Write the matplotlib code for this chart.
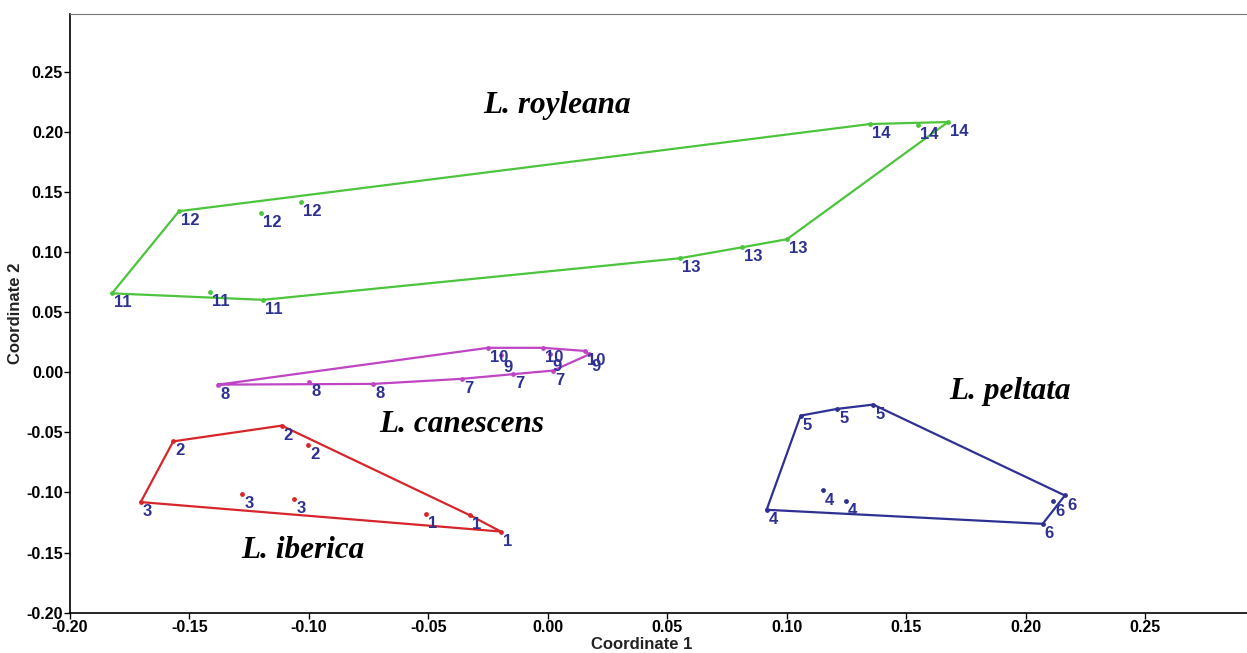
import numpy as np
import matplotlib.pyplot as plt

# PCoA scores for each population, grouped by species
iberica_x = [-0.0197, -0.0326, -0.0512, -0.1568, -0.1114, -0.1003, -0.1704, -0.1279, -0.1061]
iberica_y = [-0.1325, -0.1190, -0.1180, -0.0575, -0.0444, -0.0608, -0.1080, -0.1013, -0.1055]
iberica_lab = ["1", "1", "1", "2", "2", "2", "3", "3", "3"]

peltata_x = [0.0915, 0.1149, 0.1246, 0.1057, 0.1210, 0.1361, 0.2163, 0.2114, 0.2070]
peltata_y = [-0.1144, -0.0983, -0.1069, -0.0361, -0.0305, -0.0269, -0.1025, -0.1075, -0.1261]
peltata_lab = ["4", "4", "4", "5", "5", "5", "6", "6", "6"]

canescens_x = [-0.0361, -0.0145, 0.0022, -0.1379, -0.0999, -0.0731, -0.0197, 0.0008, 0.0172, -0.0250, -0.0020, 0.0155]
canescens_y = [-0.0055, -0.0013, 0.0014, -0.0103, -0.0080, -0.0097, 0.0140, 0.0148, 0.0148, 0.0203, 0.0203, 0.0177]
canescens_lab = ["7", "7", "7", "8", "8", "8", "9", "9", "9", "10", "10", "10"]

royleana_x = [-0.1824, -0.1414, -0.1192, -0.1544, -0.1201, -0.1033, 0.0552, 0.0812, 0.1000, 0.1347, 0.1548, 0.1674]
royleana_y = [0.0656, 0.0664, 0.0602, 0.1339, 0.1322, 0.1414, 0.0948, 0.1039, 0.1106, 0.2064, 0.2060, 0.2081]
royleana_lab = ["11", "11", "11", "12", "12", "12", "13", "13", "13", "14", "14", "14"]

species = ["L. iberica", "L. peltata", "L. canescens", "L. royleana"]
species_pos = [(-0.1025, -0.1486), (0.1933, -0.0160), (-0.0360, -0.0436), (0.0038, 0.2215)]


def convex_hull(x, y):
    pts = sorted(set(zip(x, y)))

    def cross(o, a, b):
        return (a[0] - o[0]) * (b[1] - o[1]) - (a[1] - o[1]) * (b[0] - o[0])

    lower, upper = [], []
    for p in pts:
        while len(lower) >= 2 and cross(lower[-2], lower[-1], p) <= 0:
            lower.pop()
        lower.append(p)
    for p in reversed(pts):
        while len(upper) >= 2 and cross(upper[-2], upper[-1], p) <= 0:
            upper.pop()
        upper.append(p)
    hull = lower[:-1] + upper[:-1]
    hull.append(hull[0])
    return np.array(hull)


plt.rcParams["font.family"] = ["Liberation Sans", "DejaVu Sans"]

fig = plt.figure(figsize=(12.47, 6.53), dpi=100)
ax = fig.add_axes([0.0561, 0.0617, 0.9439, 0.917])

groups = [
    (iberica_x, iberica_y, iberica_lab, "#d7262b"),
    (peltata_x, peltata_y, peltata_lab, "#2e3192"),
    (canescens_x, canescens_y, canescens_lab, "#bf45c4"),
    (royleana_x, royleana_y, royleana_lab, "#4cc43c"),
]

for gx, gy, glab, col in groups:
    hull = convex_hull(gx, gy)
    ax.plot(hull[:, 0], hull[:, 1], color=col, linewidth=1.6, zorder=2)
    ax.scatter(gx, gy, s=6, color=col, zorder=3)
    for xi, yi, lab in zip(gx, gy, glab):
        # the "9" labels sit just under the "10" ones
        dy = -3.5 if lab == "9" else -1.5
        ax.annotate(lab, (xi, yi), xytext=(1.5, dy), textcoords="offset points",
                    ha="left", va="top", fontsize=12, fontweight="bold",
                    color="#2e3192", zorder=4)

for name, (sx, sy) in zip(species, species_pos):
    ax.text(sx, sy, name, ha="center", va="center", fontsize=22.5,
            family="Liberation Serif", fontstyle="italic", fontweight="bold")

ax.set_xlim(-0.20, 0.2925)
ax.set_ylim(-0.20, 0.298)
ticks = np.round(np.arange(-0.20, 0.26, 0.05), 2) + 0.0
ax.set_xticks(ticks)
ax.set_yticks(ticks)
ax.set_xticklabels([f"{t:.2f}" for t in ticks])
ax.set_yticklabels([f"{t:.2f}" for t in ticks])
ax.tick_params(length=4, width=1, labelsize=11.5, pad=1)
for lbl in ax.get_xticklabels() + ax.get_yticklabels():
    lbl.set_fontweight("bold")

ax.spines["right"].set_visible(False)
ax.spines["top"].set_color("#777777")
ax.spines["left"].set_linewidth(1.2)
ax.spines["bottom"].set_linewidth(1.2)

ax.set_xlabel("Coordinate 1", fontsize=12, fontweight="bold", color="#222222", labelpad=0)
ax.xaxis.set_label_coords(0.486, -0.04)
ax.set_ylabel("Coordinate 2", fontsize=12, fontweight="bold", color="#222222", labelpad=2)

fig.savefig("out.png", dpi=100)
